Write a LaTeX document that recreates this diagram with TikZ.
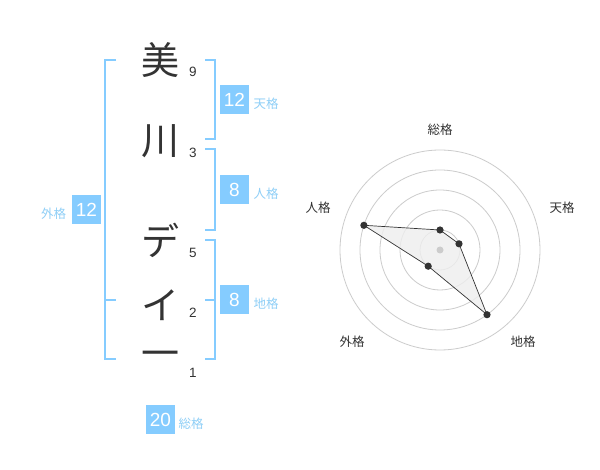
\documentclass[tikz,border=0pt]{standalone}
\usepackage{fontspec}
\setmainfont{Liberation Sans}
\newfontfamily\jp{Noto Sans CJK JP}
\definecolor{kblue}{HTML}{85CCFF}
\definecolor{klabel}{HTML}{8FCFF7}
\definecolor{ktext}{HTML}{333333}
\definecolor{kring}{HTML}{CCCCCC}
\definecolor{kfill}{HTML}{EEEEEE}
\begin{document}
\begin{tikzpicture}[x=1pt,y=-1pt,
  ch/.style={inner sep=0pt,text=ktext,font=\jp\fontsize{38}{40}\selectfont},
  num/.style={inner sep=0pt,text=ktext,font=\fontsize{13.5}{15}\selectfont},
  kbox/.style={fill=kblue,text=white,minimum width=29pt,minimum height=29pt,inner sep=0pt,font=\fontsize{19}{21}\selectfont},
  klab/.style={inner sep=0pt,text=klabel,font=\jp\fontsize{12.5}{14}\selectfont},
  brk/.style={draw=kblue,line width=1.6pt},
  ring/.style={draw=kring,line width=0.8pt},
  rlab/.style={inner sep=0pt,text=ktext,font=\jp\fontsize{12.5}{14}\selectfont},
  vdot/.style={fill=ktext,draw=none}]
\useasboundingbox (0,0) rectangle (600,470);
\fill[white] (0,0) rectangle (600,470);
% characters
\node[ch] (c1) at (160,60) {美};
\node[ch] (c2) at (160,141) {川};
\node[ch] (c3) at (160,240) {デ};
\node[ch] (c4) at (160,305) {イ};
\node[ch] (c5) at (160,359) {一};
% stroke numbers
\node[num] (n1) at (193,72) {9};
\node[num] (n2) at (193,153) {3};
\node[num] (n3) at (193,253) {5};
\node[num] (n4) at (193,313) {2};
\node[num] (n5) at (193,373) {1};
% brackets
\draw[brk] (116,60) -- (105,60) -- (105,359) -- (116,359);
\draw[brk] (105,300) -- (116,300);
\draw[brk] (205,60) -- (215,60) -- (215,139) -- (205,139);
\draw[brk] (205,149) -- (215,149) -- (215,230) -- (205,230);
\draw[brk] (205,240) -- (215,240) -- (215,359) -- (205,359);
\draw[brk] (205,300) -- (215,300);
% boxes and labels
\node[kbox] (bten) at (234.5,100) {12};
\node[klab] (lten) at (266,104) {天格};
\node[kbox] (bjin) at (234.5,190) {8};
\node[klab] (ljin) at (266,194) {人格};
\node[kbox] (bchi) at (234.5,300) {8};
\node[klab] (lchi) at (266,304) {地格};
\node[kbox] (bgai) at (86.5,210) {12};
\node[klab] (lgai) at (53.5,214) {外格};
\node[kbox] (bsou) at (160.5,419.5) {20};
\node[klab] (lsou) at (191,424) {総格};
% radar
\coordinate (rc) at (440,250);
\foreach \r in {20,40,60,80,100} \draw[ring] (rc) circle[radius=\r];
\coordinate (psou) at (440,230);
\coordinate (pten) at (459.0,243.8);
\coordinate (pchi) at (487.0,314.7);
\coordinate (pgai) at (428.2,266.2);
\coordinate (pjin) at (363.9,225.3);
\draw[fill=kfill,fill opacity=0.8,draw=ktext,line width=0.7pt] (psou) -- (pten) -- (pchi) -- (pgai) -- (pjin) -- cycle;
\fill[kring] (rc) circle[radius=3.5];
\foreach \p in {psou,pten,pchi,pgai,pjin} \fill[vdot] (\p) circle[radius=3.6];
\node[rlab] (rsou) at (440,130) {総格};
\node[rlab] (rten) at (562,208) {天格};
\node[rlab] (rjin) at (318,208) {人格};
\node[rlab] (rgai) at (352,342) {外格};
\node[rlab] (rchi) at (523,342) {地格};
\end{tikzpicture}
\end{document}
